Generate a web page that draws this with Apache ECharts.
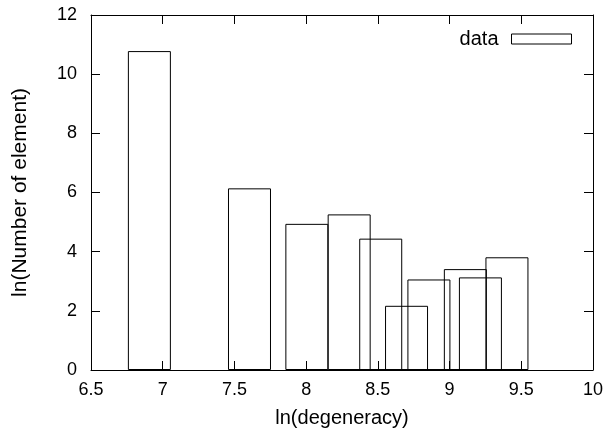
<!DOCTYPE html>
<html>
<head>
<meta charset="utf-8">
<script src="https://cdn.jsdelivr.net/npm/echarts@6/dist/echarts.min.js"></script>
<style>html,body{margin:0;padding:0;background:#fff}#c{width:608px;height:434px}</style>
</head>
<body>
<div id="c"></div>
<script>
// ln(degeneracy) positions of the boxes
const xValues = [6.907, 7.605, 8.005, 8.30, 8.52, 8.70, 8.856, 9.11, 9.215, 9.40];
// ln(Number of element) heights
const yValues = [10.78, 6.14, 4.94, 5.26, 4.44, 2.17, 3.06, 3.41, 3.13, 3.81];
const seriesName = 'data';
const xName = 'ln(degeneracy)';
const yName = 'ln(Number of element)';

const FONT = "'Liberation Sans', Arial, Helvetica, sans-serif";
const chart = echarts.init(document.getElementById('c'), null, {renderer: 'canvas'});
function axisCommon() {
  return {
    axisLine: {show: true, onZero: false, lineStyle: {color: '#000', width: 1}},
    axisTick: {show: true, inside: false, length: -9, lineStyle: {color: '#000', width: 1}},
    splitLine: {show: false}
  };
}
chart.setOption({
  animation: false,
  backgroundColor: '#fff',
  grid: {left: 91, right: 15, top: 15, bottom: 64, containLabel: false},
  legend: {
    data: [seriesName],
    right: 31, top: 24,
    align: 'right',
    icon: 'rect',
    itemWidth: 60, itemHeight: 10,
    itemStyle: {color: 'transparent', borderColor: '#000', borderWidth: 1},
    textStyle: {fontFamily: FONT, fontSize: 20, color: '#000', padding: [0, 8, 0, 0]}
  },
  xAxis: [
    Object.assign(axisCommon(), {
      type: 'value', min: 6.5, max: 10, interval: 0.5, position: 'bottom',
      name: xName, nameLocation: 'middle', nameGap: 38,
      nameTextStyle: {fontFamily: FONT, fontSize: 20, color: '#000'},
      axisLabel: {fontFamily: FONT, fontSize: 18, color: '#000', margin: 11}
    }),
    Object.assign(axisCommon(), {
      type: 'value', min: 6.5, max: 10, interval: 0.5, position: 'top',
      axisLabel: {show: false}
    })
  ],
  yAxis: [
    Object.assign(axisCommon(), {
      type: 'value', min: 0, max: 12, interval: 2, position: 'left',
      name: yName, nameLocation: 'middle', nameGap: 60,
      nameTextStyle: {fontFamily: FONT, fontSize: 21, color: '#000'},
      axisLabel: {fontFamily: FONT, fontSize: 18, color: '#000', margin: 14}
    }),
    Object.assign(axisCommon(), {
      type: 'value', min: 0, max: 12, interval: 2, position: 'right',
      axisLabel: {show: false}
    })
  ],
  series: [{
    name: seriesName,
    type: 'bar',
    xAxisIndex: 0, yAxisIndex: 0,
    barWidth: 43,
    itemStyle: {color: 'transparent', borderColor: '#000', borderWidth: 1},
    emphasis: {disabled: true},
    data: xValues.map((x, i) => [x, yValues[i]])
  }]
});
</script>
</body>
</html>
